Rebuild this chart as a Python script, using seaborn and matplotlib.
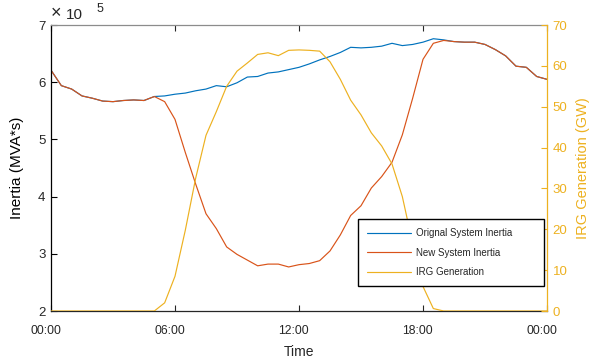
import numpy as np
import matplotlib
matplotlib.use("Agg")
import matplotlib.pyplot as plt
import matplotlib.transforms as mtransforms
import seaborn as sns

# Half-hourly samples over one day (hours since midnight)
hours = np.arange(0, 24.01, 0.5)

# System inertia, units of 1e5 MVA*s
original_inertia = [
    6.21, 5.94, 5.88, 5.76, 5.72, 5.67, 5.66, 5.68, 5.69, 5.68,
    5.75, 5.76, 5.79, 5.81, 5.85, 5.88, 5.94, 5.92, 5.99, 6.09,
    6.10, 6.16, 6.18, 6.22, 6.26, 6.32, 6.39, 6.45, 6.52, 6.61,
    6.60, 6.61, 6.63, 6.68, 6.64, 6.66, 6.70, 6.76, 6.74, 6.71,
    6.70, 6.70, 6.66, 6.57, 6.46, 6.28, 6.26, 6.10, 6.05,
]
new_inertia = [
    6.21, 5.94, 5.88, 5.76, 5.72, 5.67, 5.66, 5.68, 5.69, 5.68,
    5.75, 5.66, 5.35, 4.77, 4.22, 3.70, 3.44, 3.12, 2.99, 2.89,
    2.79, 2.82, 2.82, 2.77, 2.81, 2.83, 2.88, 3.05, 3.33, 3.67,
    3.84, 4.15, 4.35, 4.60, 5.08, 5.72, 6.40, 6.68, 6.73, 6.71,
    6.70, 6.70, 6.66, 6.57, 6.46, 6.28, 6.26, 6.10, 6.05,
]

# Intermittent renewable generation, GW
irg_generation = [
    0.0, 0.0, 0.0, 0.0, 0.0, 0.0, 0.0, 0.0, 0.0, 0.0,
    0.0, 2.0, 8.5, 19.8, 32.5, 43.0, 48.8, 55.0, 58.7, 60.7,
    62.8, 63.2, 62.5, 63.8, 63.9, 63.8, 63.6, 61.0, 56.7, 51.6,
    48.0, 43.6, 40.4, 36.0, 28.0, 16.5, 6.0, 0.6, 0.0, 0.0,
    0.0, 0.0, 0.0, 0.0, 0.0, 0.0, 0.0, 0.0, 0.0,
]

tick_hours = [0, 6, 12, 18, 24]
tick_labels = ["00:00", "06:00", "12:00", "18:00", "00:00"]

BLUE = "#0072BD"
RED = "#D95319"
YELLOW = "#EDB120"
TEXT = "#262626"

sns.set_style("white")
plt.rcParams["font.family"] = ["Liberation Sans", "DejaVu Sans"]

fig = plt.figure(figsize=(5.91, 3.6), dpi=100)
ax = fig.add_axes([51 / 591, 49 / 360, 496 / 591, 286 / 360])
ax2 = ax.twinx()

sns.lineplot(x=hours, y=original_inertia, ax=ax, color=BLUE, linewidth=0.85,
             label="Orignal System Inertia", legend=False)
sns.lineplot(x=hours, y=new_inertia, ax=ax, color=RED, linewidth=0.85,
             label="New System Inertia", legend=False)
sns.lineplot(x=hours, y=irg_generation, ax=ax2, color=YELLOW, linewidth=0.85,
             label="IRG Generation", legend=False)

ax.set_xlim(0, 24)
ax.set_ylim(2, 7)
ax2.set_ylim(0, 70)
ax.set_xticks(tick_hours)
ax.set_xticklabels(tick_labels)
ax.set_yticks([2, 3, 4, 5, 6, 7])
ax2.set_yticks(range(0, 71, 10))

ax.tick_params(axis="x", direction="in", length=4, width=0.8, top=True,
               bottom=True, labelsize=8.8, labelcolor=TEXT, color=TEXT, pad=10)
for t in ax.xaxis.get_major_ticks():
    t.tick2line.set_color("#8c8c8c")
# date labels sit a little to the left of their ticks
shift = mtransforms.ScaledTranslation(-5.5 / 100, 0, fig.dpi_scale_trans)
for lbl in ax.get_xticklabels():
    lbl.set_transform(lbl.get_transform() + shift)

ax.tick_params(axis="y", direction="in", length=4, width=0.8, left=True,
               right=False, labelsize=9.5, labelcolor=TEXT, color="black", pad=4)
ax2.tick_params(axis="y", direction="in", length=4, width=0.8, right=True,
                labelsize=9.5, labelcolor=YELLOW, color=YELLOW, pad=4)

for side in ["top", "bottom", "left", "right"]:
    ax.spines[side].set_linewidth(0.9)
    ax2.spines[side].set_linewidth(0.9)
ax.spines["left"].set_color("black")
ax.spines["bottom"].set_color(TEXT)
ax.spines["top"].set_color("#8c8c8c")
ax.spines["right"].set_visible(False)
ax2.spines["left"].set_visible(False)
ax2.spines["top"].set_visible(False)
ax2.spines["bottom"].set_visible(False)
ax2.spines["right"].set_color(YELLOW)

ax.set_xlabel("Time", fontsize=10, color=TEXT, labelpad=6)
ax.set_ylabel("Inertia (MVA*s)", fontsize=11, color="black", labelpad=10)
ax2.set_ylabel("IRG Generation (GW)", fontsize=10.5, color=YELLOW, labelpad=6)

# exponent marker for the left axis
ax.text(0.0, 1.01, "\u00d7", transform=ax.transAxes,
        fontsize=13, color=TEXT, ha="left", va="bottom")
ax.text(0.03, 1.012, "10", transform=ax.transAxes,
        fontsize=11, color=TEXT, ha="left", va="bottom")
ax.text(0.091, 1.035, "5", transform=ax.transAxes,
        fontsize=9, color=TEXT, ha="left", va="bottom")

handles = ax.get_lines() + ax2.get_lines()
leg = ax2.legend(handles=handles, labels=[h.get_label() for h in handles],
                 loc="lower left", bbox_to_anchor=(0.619, 0.087, 0.375, 0.2),
                 mode="expand", fontsize=7.0, frameon=True, fancybox=False,
                 framealpha=1, edgecolor="black", handlelength=4.6,
                 handletextpad=0.45, labelspacing=1.0, borderpad=0.9,
                 borderaxespad=0)
leg.get_frame().set_linewidth(1.0)
for txt in leg.get_texts():
    txt.set_color(TEXT)

fig.savefig("out.png", dpi=100)
